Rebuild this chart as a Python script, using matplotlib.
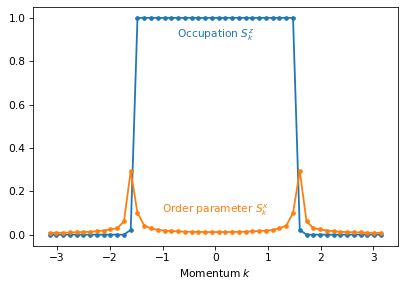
import numpy as np
import matplotlib.pyplot as plt

k = np.linspace(-np.pi, np.pi, 50)

# half of the curves (k < 0), mirrored for k > 0
occ_half = [0.0, 0.0, 0.0, 0.0, 0.0, 0.0, 0.0, 0.0, 0.0, 0.0, 0.0, 0.0, 0.022,
            1.0, 1.0, 1.0, 1.0, 1.0, 1.0, 1.0, 1.0, 1.0, 1.0, 1.0, 1.0]
order_half = [0.008, 0.009, 0.009, 0.010, 0.011, 0.012, 0.013, 0.016, 0.019, 0.024, 0.030, 0.061, 0.293,
              0.100, 0.042, 0.029, 0.022, 0.019, 0.017, 0.015, 0.014, 0.013, 0.013, 0.012, 0.012]

occupation = np.array(occ_half + occ_half[::-1])
order_param = np.array(order_half + order_half[::-1])

plt.rcParams['font.size'] = 10.6

fig = plt.figure(figsize=(407 / 72, 287 / 72), dpi=72)
ax = fig.add_axes([33 / 407, 1 - 245.5 / 287, 364.5 / 407, 238.5 / 287])

ax.plot(k, occupation, marker='o', markersize=3.6, linewidth=1.8, color='C0')
ax.plot(k, order_param, marker='o', markersize=3.6, linewidth=1.8, color='C1')

ax.text(0, 0.918, "Occupation $S_k^z$", color='C0', ha='center', va='center')
ax.text(0, 0.113, "Order parameter $S_k^x$", color='C1', ha='center', va='center')
ax.set_xlabel("Momentum $k$")
ax.tick_params(length=4)

fig.savefig("out.png", dpi=72)
